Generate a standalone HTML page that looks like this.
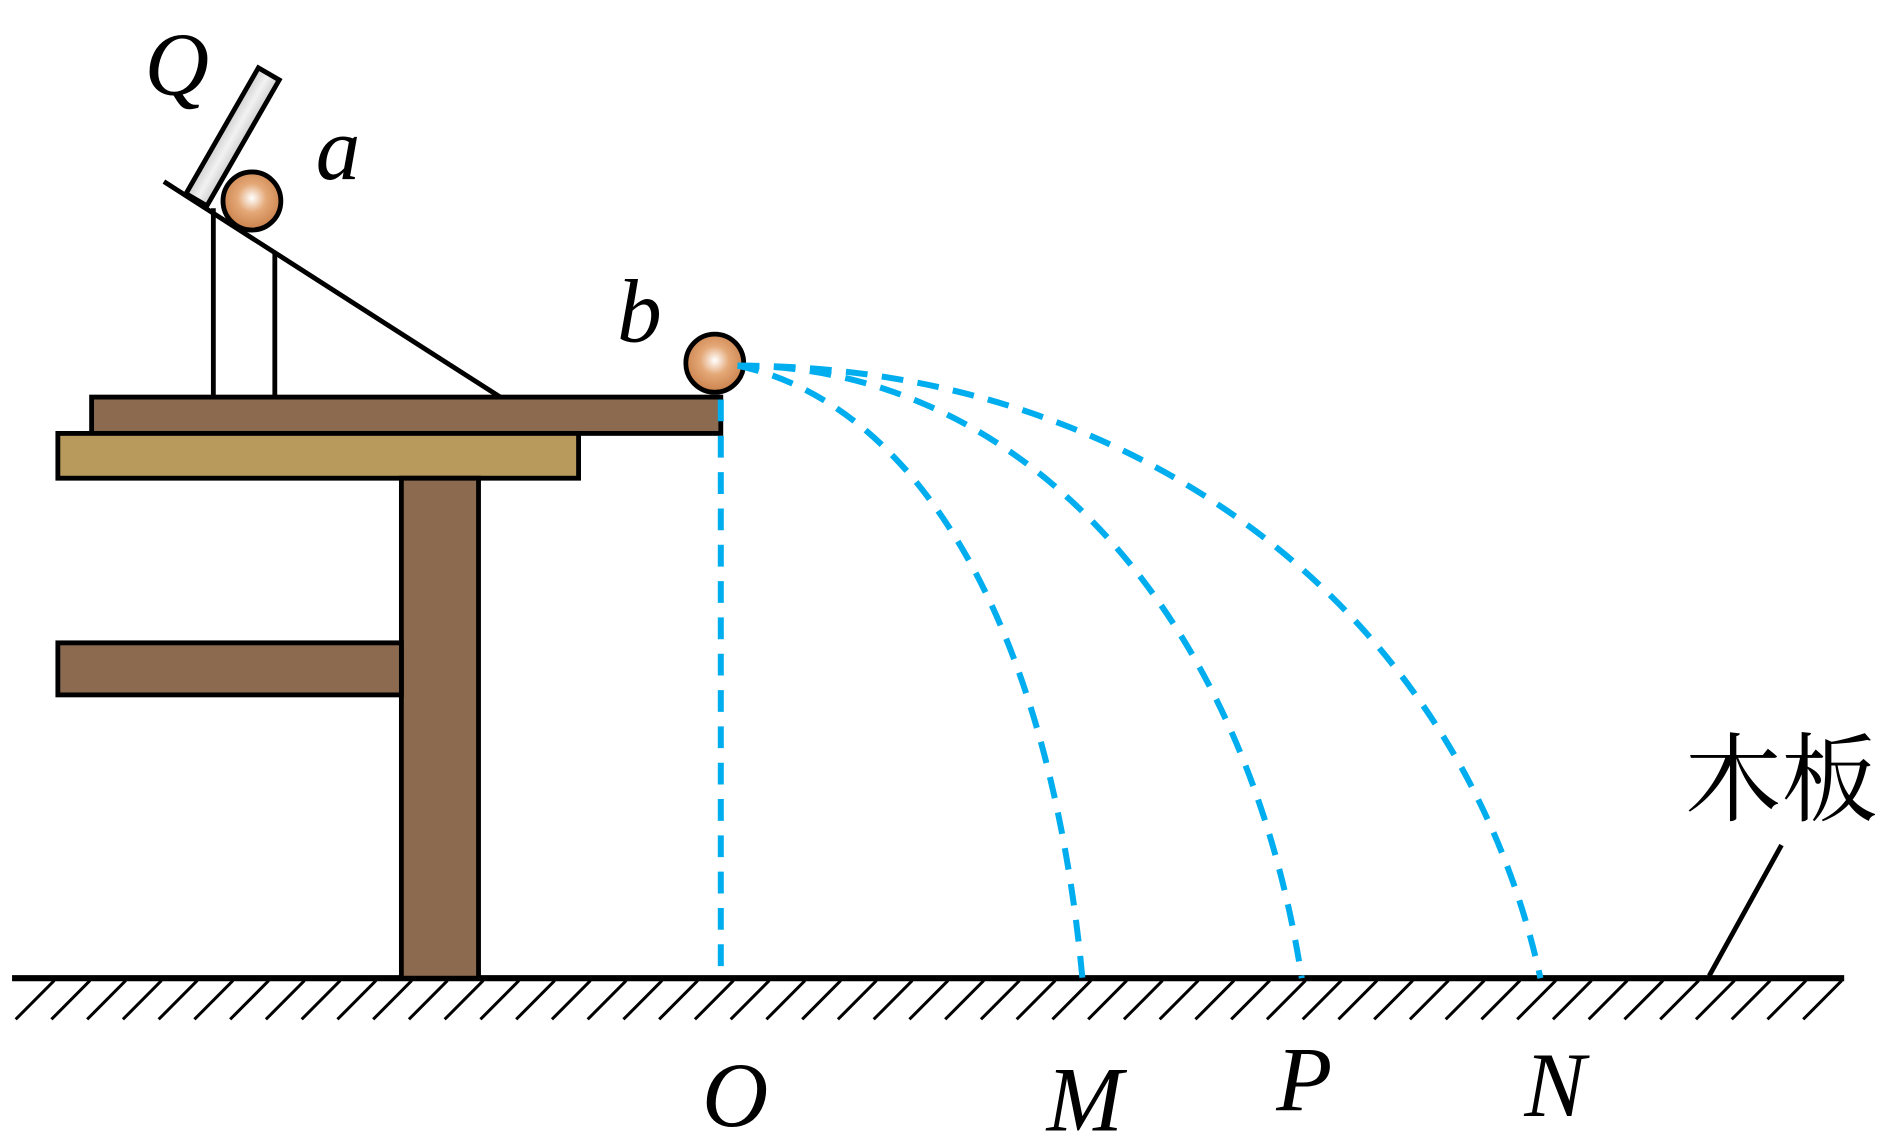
<!DOCTYPE html>
<html><head><meta charset="utf-8"><style>
html,body{margin:0;padding:0;background:#fff;}
svg{display:block;}
text{font-family:"Liberation Serif","Noto Serif CJK SC",serif;}
</style></head><body>
<svg id="fig" width="1890" height="1138" viewBox="0 0 1568 940" preserveAspectRatio="none" xmlns="http://www.w3.org/2000/svg">
<defs>
<radialGradient id="ballg" cx="0.5" cy="0.45" r="0.55">
<stop offset="0" stop-color="#fff"/><stop offset="0.45" stop-color="#e4a877"/><stop offset="1" stop-color="#c9804a"/>
</radialGradient>
<linearGradient id="gateg" x1="0" y1="0" x2="1" y2="0">
<stop offset="0" stop-color="#cfcfcf"/><stop offset="0.5" stop-color="#f2f2f2"/><stop offset="1" stop-color="#cfcfcf"/>
</linearGradient>
</defs>
<g id="hatch"></g>
<line x1="10" y1="808" x2="1530" y2="808" stroke="#000" stroke-width="5"/>
<rect x="76" y="328" width="522" height="30" fill="#8B6A4F" stroke="#000" stroke-width="4"/>
<rect x="48" y="358" width="432" height="37" fill="#B89A5C" stroke="#000" stroke-width="4"/>
<rect x="333" y="395" width="64" height="413" fill="#8B6A4F" stroke="#000" stroke-width="4"/>
<rect x="48" y="531" width="285" height="43" fill="#8B6A4F" stroke="#000" stroke-width="4"/>
<line x1="136" y1="150" x2="415" y2="328" stroke="#000" stroke-width="4"/>
<line x1="177" y1="172" x2="177" y2="328" stroke="#000" stroke-width="4"/>
<line x1="228" y1="208" x2="228" y2="328" stroke="#000" stroke-width="4"/>
<g transform="translate(193,113) rotate(30)">
<rect x="-10" y="-60" width="20" height="120" fill="url(#gateg)" stroke="#000" stroke-width="4"/>
</g>
<circle cx="209" cy="166" r="24" fill="url(#ballg)" stroke="#000" stroke-width="4"/>
<circle cx="593" cy="300" r="24" fill="url(#ballg)" stroke="#000" stroke-width="4"/>
<g id="traj"></g>
<line x1="1478" y1="698" x2="1418" y2="806" stroke="#000" stroke-width="4"/>
<text x="120" y="78" font-size="74" font-style="italic">Q</text>
<text x="262" y="148" font-size="74" font-style="italic">a</text>
<text x="512" y="282" font-size="74" font-style="italic">b</text>
<text x="1398" y="672" font-size="80">木板</text>
<g id="labels"></g>
</svg>
<script>
const pointNames = ['O','M','P','N'];
const landingX = [598, 898, 1080, 1278];
const labelX = [610, 900, 1082, 1290];
const labelY = [930, 934, 917, 922];
const NS='http://www.w3.org/2000/svg';
const traj=document.getElementById('traj');
const x0=612,y0=302,yG=808;
function mk(t){return document.createElementNS(NS,t);}
landingX.forEach((xe,i)=>{
  let el;
  if(i===0){
    el=mk('line');
    el.setAttribute('x1',xe);el.setAttribute('y1',330);el.setAttribute('x2',xe);el.setAttribute('y2',yG);
  } else {
    const d=xe-x0,h=yG-y0;
    el=mk('path');
    el.setAttribute('d',`M${x0},${y0} C${x0+0.5*d},${y0+(i===1?0.06*h:0)} ${xe-0.1*d},${y0+0.4*h} ${xe},${yG}`);
    el.setAttribute('fill','none');
  }
  el.setAttribute('stroke','#00AEEF');el.setAttribute('stroke-width','5');el.setAttribute('stroke-dasharray','18 12');
  
  
  traj.appendChild(el);
});
const lab=document.getElementById('labels');
pointNames.forEach((n,i)=>{
  const t=mk('text');
  t.setAttribute('x',labelX[i]);t.setAttribute('y',labelY[i]);t.setAttribute('font-size','76');
  t.setAttribute('font-style','italic');t.setAttribute('text-anchor','middle');
  t.textContent=n;
  
  
  lab.appendChild(t);
});
const hatch=document.getElementById('hatch');
for(let k=0;k<=50;k++){
  const x=45+k*29.66;
  const l=mk('line');
  l.setAttribute('x1',x);l.setAttribute('y1',810);l.setAttribute('x2',x-32);l.setAttribute('y2',842);
  l.setAttribute('stroke','#000');l.setAttribute('stroke-width','2.5');
  
  
  hatch.appendChild(l);
}
</script>
</body></html>
